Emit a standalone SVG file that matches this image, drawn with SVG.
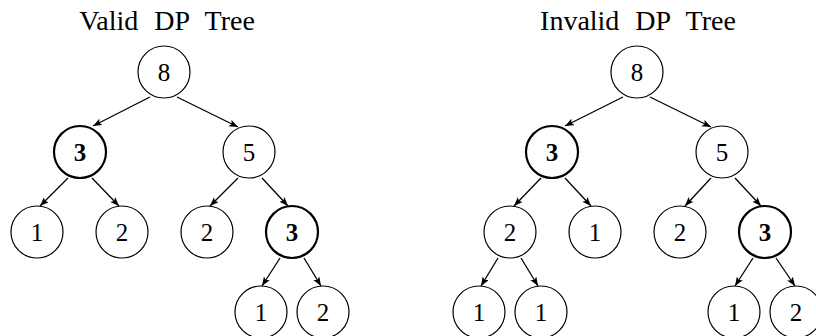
<svg xmlns="http://www.w3.org/2000/svg" width="816" height="336" viewBox="0 0 816 336">
  <style>
    .title { font-family: "Liberation Serif", serif; font-size: 28px; word-spacing: 9px; fill: #000; }
    .node circle { fill: #fff; stroke: #000; stroke-width: 1.2; }
    .node.bold circle { stroke-width: 2.2; }
    .node text { font-family: "Liberation Serif", serif; font-size: 25px; text-anchor: middle; fill: #000; }
    .node.bold text { font-weight: bold; }
    .edges line { stroke: #000; stroke-width: 1.3; marker-end: url(#arrow); }
  </style>
  <defs>
    <marker id="arrow" markerUnits="userSpaceOnUse" markerWidth="10" markerHeight="8" refX="9" refY="3.5" orient="auto">
      <path d="M0,0 L9,3.5 L0,7 L2,3.5 Z" fill="#000"/>
    </marker>
  </defs>

  <text class="title" x="167" y="30" text-anchor="middle">Valid DP Tree</text>
  <text class="title" x="638" y="30" text-anchor="middle">Invalid DP Tree</text>

  <g class="edges" id="edges">
    <!-- valid tree -->
    <line x1="150" y1="97" x2="93" y2="126"/>
    <line x1="177" y1="97" x2="238" y2="127"/>
    <line x1="68" y1="178" x2="40" y2="206"/>
    <line x1="92" y1="178" x2="119" y2="206"/>
    <line x1="238" y1="178" x2="210" y2="206"/>
    <line x1="262" y1="178" x2="288" y2="206"/>
    <line x1="280" y1="258" x2="262" y2="286"/>
    <line x1="304" y1="258" x2="321" y2="286"/>
    <!-- invalid tree -->
    <line x1="623" y1="97" x2="565" y2="126"/>
    <line x1="650" y1="97" x2="711" y2="127"/>
    <line x1="541" y1="178" x2="514" y2="206"/>
    <line x1="565" y1="178" x2="591" y2="206"/>
    <line x1="711" y1="178" x2="685" y2="206"/>
    <line x1="735" y1="178" x2="761" y2="206"/>
    <line x1="498" y1="258" x2="481" y2="286"/>
    <line x1="521" y1="258" x2="538" y2="286"/>
    <line x1="753" y1="258" x2="735" y2="286"/>
    <line x1="776" y1="258" x2="795" y2="286"/>
  </g>

  <!-- valid tree nodes -->
  <g class="node" id="v-root"><circle cx="164" cy="72" r="26"/><text x="164" y="81">8</text></g>
  <g class="node bold" id="v-l"><circle cx="80" cy="152" r="26"/><text x="80" y="161">3</text></g>
  <g class="node" id="v-r"><circle cx="249" cy="152" r="26"/><text x="249" y="161">5</text></g>
  <g class="node" id="v-ll"><circle cx="37" cy="232" r="26"/><text x="37" y="241">1</text></g>
  <g class="node" id="v-lr"><circle cx="122" cy="232" r="26"/><text x="122" y="241">2</text></g>
  <g class="node" id="v-rl"><circle cx="207" cy="232" r="26"/><text x="207" y="241">2</text></g>
  <g class="node bold" id="v-rr"><circle cx="292" cy="232" r="26"/><text x="292" y="241">3</text></g>
  <g class="node" id="v-rrl"><circle cx="261" cy="312" r="26"/><text x="261" y="321">1</text></g>
  <g class="node" id="v-rrr"><circle cx="323" cy="312" r="26"/><text x="323" y="321">2</text></g>

  <!-- invalid tree nodes -->
  <g class="node" id="i-root"><circle cx="637" cy="72" r="26"/><text x="637" y="81">8</text></g>
  <g class="node bold" id="i-l"><circle cx="552" cy="152" r="26"/><text x="552" y="161">3</text></g>
  <g class="node" id="i-r"><circle cx="722" cy="152" r="26"/><text x="722" y="161">5</text></g>
  <g class="node" id="i-ll"><circle cx="510" cy="232" r="26"/><text x="510" y="241">2</text></g>
  <g class="node" id="i-lr"><circle cx="595" cy="232" r="26"/><text x="595" y="241">1</text></g>
  <g class="node" id="i-rl"><circle cx="680" cy="232" r="26"/><text x="680" y="241">2</text></g>
  <g class="node bold" id="i-rr"><circle cx="765" cy="232" r="26"/><text x="765" y="241">3</text></g>
  <g class="node" id="i-lll"><circle cx="479" cy="312" r="26"/><text x="479" y="321">1</text></g>
  <g class="node" id="i-llr"><circle cx="541" cy="312" r="26"/><text x="541" y="321">1</text></g>
  <g class="node" id="i-rrl"><circle cx="734" cy="312" r="26"/><text x="734" y="321">1</text></g>
  <g class="node" id="i-rrr"><circle cx="796" cy="312" r="26"/><text x="796" y="321">2</text></g>
</svg>
